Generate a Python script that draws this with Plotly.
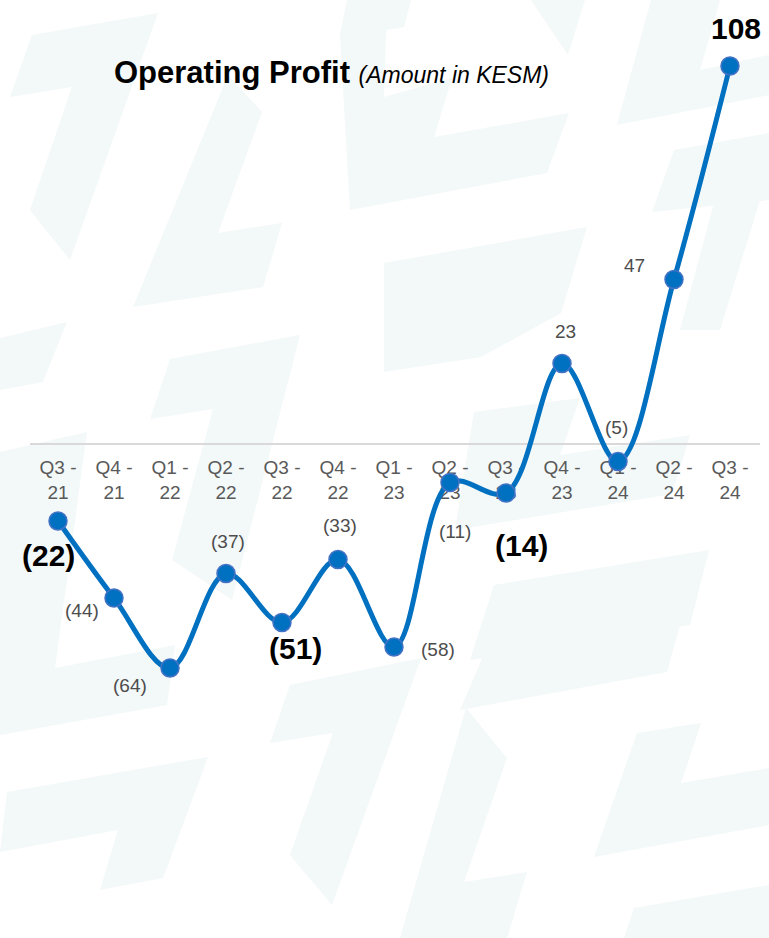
import plotly.graph_objects as go

# Quarterly operating profit (KES millions)
quarters = ["Q3 -<br>21", "Q4 -<br>21", "Q1 -<br>22", "Q2 -<br>22", "Q3 -<br>22", "Q4 -<br>22",
            "Q1 -<br>23", "Q2 -<br>23", "Q3 -<br>23", "Q4 -<br>23", "Q1 -<br>24", "Q2 -<br>24",
            "Q3 -<br>24"]
profit = [-22, -44, -64, -37, -51, -33, -58, -11, -14, 23, -5, 47, 108]
emphasised = [True, False, False, False, True, False, False, False, True, False, False, False, True]

# label offsets in pixels (dx, dy) relative to each marker
label_shift = [(-10, -34), (-32, -12), (-40, -17), (2, 32), (14, -26), (2, 34), (44, -2),
               (5, -49), (16, -52), (4, 32), (-1, 34), (-39, 14), (6, 38)]

W, H = 769, 938
BLUE = "#0070C0"
GREY = "#595959"
WATERMARK = "#f3f8f8"

def fmt(v):
    return f"({abs(v)})" if v < 0 else f"{v}"

x_idx = list(range(len(quarters)))

fig = go.Figure()
fig.add_trace(go.Scatter(
    x=x_idx, y=profit, mode="lines+markers",
    line=dict(color=BLUE, width=5, shape="spline", smoothing=1.0),
    marker=dict(size=18, color=BLUE, line=dict(color="#4472C4", width=1.5)),
    hoverinfo="skip",
))

for i, (v, strong, (dx, dy)) in enumerate(zip(profit, emphasised, label_shift)):
    if strong:
        font = dict(family="Liberation Sans, Arial, sans-serif", size=30, color="#000000", weight="bold")
    else:
        font = dict(family="Liberation Sans, Arial, sans-serif", size=19, color="#4d4d4d")
    fig.add_annotation(x=i, y=v, text=fmt(v), showarrow=False, xanchor="center", yanchor="middle",
                       xshift=dx, yshift=dy, font=font)

# title
fig.add_annotation(
    x=112 / W, y=1 - 72 / H, xref="paper", yref="paper", xanchor="left", yanchor="middle",
    showarrow=False,
    text="<b>Operating Profit</b> <span style='font-size:23px'><i>(Amount in KESM)</i></span>",
    font=dict(family="Liberation Sans, Arial, sans-serif", size=31, color="#000000"),
)

# faint background watermark built from slanted bars
watermark = [
    [(32, 35), (158, 13), (70, 260), (30, 210), (72, 87), (10, 97)],
    [(228, 75), (262, 112), (218, 233), (282, 223), (263, 287), (133, 307)],
    [(347, 0), (411, 0), (404, 27), (386, 30), (384, 97), (452, 78), (434, 137), (569, 113),
     (547, 173), (350, 210), (340, 35)],
    [(531, 0), (585, 0), (568, 55)],
    [(384, 263), (587, 227), (561, 313), (481, 357), (384, 372)],
    [(170, 359), (300, 335), (232, 600), (172, 560), (213, 409), (150, 419)],
    [(0, 338), (67, 322), (43, 382), (0, 390)],
    [(0, 452), (87, 432), (55, 668), (175, 645), (167, 705), (0, 735)],
    [(7, 792), (208, 757), (163, 878), (100, 890), (118, 830), (0, 852)],
    [(290, 685), (421, 658), (332, 905), (290, 855), (333, 733), (270, 743)],
    [(466, 708), (507, 758), (464, 882), (527, 872), (507, 938), (400, 938)],
    [(637, 733), (701, 723), (681, 783), (769, 768), (769, 825), (594, 857)],
    [(634, 908), (769, 885), (769, 938), (624, 938)],
    [(487, 647), (680, 625), (667, 672), (460, 710)],
    [(474, 412), (580, 398), (560, 455), (690, 435), (672, 494), (455, 530)],
    [(494, 585), (709, 550), (690, 625), (470, 660)],
    [(651, 0), (720, 0), (700, 70), (769, 55), (769, 95), (617, 125)],
    [(674, 150), (769, 133), (769, 200), (652, 212)],
    [(714, 203), (760, 200), (720, 330), (680, 330)],
]
for poly in watermark:
    path = "M " + " L ".join(f"{px / W:.4f},{1 - py / H:.4f}" for px, py in poly) + " Z"
    fig.add_shape(type="path", path=path, xref="paper", yref="paper",
                  fillcolor=WATERMARK, line=dict(width=0), layer="below")

y_lo, y_hi = -141.14, 126.86
zero_pos = (0 - y_lo) / (y_hi - y_lo)

fig.update_layout(
    width=W, height=H,
    margin=dict(l=0, r=0, t=0, b=0),
    paper_bgcolor="white", plot_bgcolor="rgba(0,0,0,0)",
    showlegend=False,
    xaxis=dict(
        domain=[30 / W, 760 / W], range=[-0.5, 12.536],
        tickmode="array", tickvals=x_idx, ticktext=quarters,
        showline=True, linecolor="#d9d9d9", linewidth=2,
        showgrid=False, zeroline=False, ticks="",
        anchor="free", position=zero_pos, layer="below traces",
        ticklabelstandoff=6,
        tickfont=dict(family="Liberation Sans, Arial, sans-serif", size=19, color=GREY),
        fixedrange=True,
    ),
    yaxis=dict(domain=[0, 1], range=[y_lo, y_hi], visible=False, fixedrange=True),
)

fig.write_html("out.html")
